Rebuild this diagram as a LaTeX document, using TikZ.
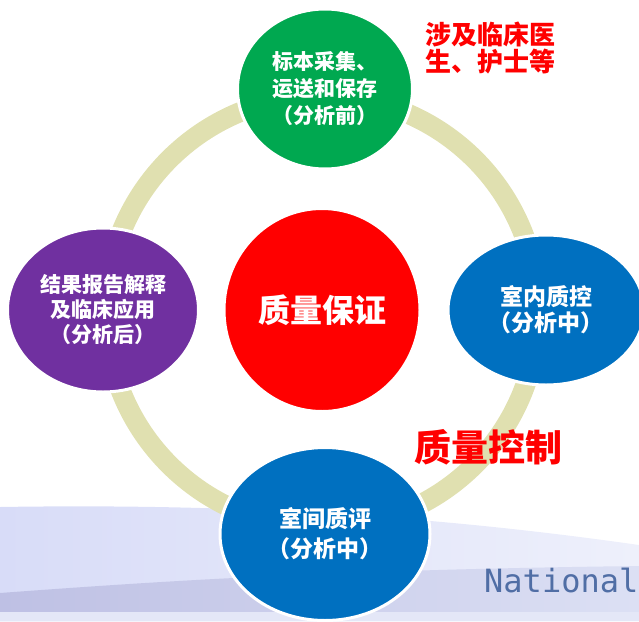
\documentclass[tikz,border=0pt]{standalone}
\usepackage{fontspec}
\usetikzlibrary{shapes.geometric}
\newfontfamily\cjk{Noto Sans CJK SC}
\newfontfamily\natfont{DejaVu Sans Mono}
\definecolor{ringc}{RGB}{224,224,176}
\definecolor{greenc}{RGB}{0,168,80}
\definecolor{purplec}{RGB}{112,48,160}
\definecolor{bluec}{RGB}{0,112,192}
\definecolor{redc}{RGB}{255,0,0}
\definecolor{lavA}{RGB}{216,220,248}
\definecolor{lavB}{RGB}{238,240,251}
\definecolor{lavC}{RGB}{190,192,228}
\definecolor{lavD}{RGB}{220,224,244}
\definecolor{lavE}{RGB}{228,231,247}
\definecolor{natc}{RGB}{80,110,165}
\tikzset{
  blob/.style={ellipse, draw=white, line width=3pt, inner sep=0pt, align=center,
    text=white, font=\cjk\bfseries\fontsize{21}{26}\selectfont},
  redlabel/.style={text=redc, align=left, inner sep=0pt}
}
\begin{document}
\begin{tikzpicture}[x=1pt,y=-1pt]
\useasboundingbox (0,0) rectangle (639,621);
\begin{scope}
\clip (0,0) rectangle (639,621);
% background swoosh
\shade[left color=lavA, right color=lavB] (0,507) .. controls (250,503) and (450,518) .. (639,545) -- (639,621) -- (0,621) -- cycle;
\shade[left color=lavC, right color=lavD] (0,593) .. controls (150,582) and (320,570) .. (639,566) -- (639,621) -- (0,621) -- cycle;
\fill[lavE] (0,612) rectangle (639,621);
\node[text=natc, font=\natfont\fontsize{32}{32}\selectfont, anchor=base west, inner sep=0pt] (nat) at (484,592) {National};
% ring
\draw[ringc, line width=20pt] (322,312) circle (216);
% nodes
\node[blob, fill=greenc, minimum width=175pt, minimum height=160pt, font=\cjk\bfseries\fontsize{21}{27}\selectfont] (pre) at (325,89)
  {标本采集、\\运送和保存\\（分析前）};
\node[blob, fill=purplec, minimum width=191pt, minimum height=164pt, font=\cjk\bfseries\fontsize{21}{25}\selectfont] (post) at (103,310)
  {结果报告解释\\及临床应用\\（分析后）};
\node[blob, fill=bluec, minimum width=196pt, minimum height=150pt, font=\cjk\bfseries\fontsize{23}{26}\selectfont] (iqc) at (546,310)
  {室内质控\\（分析中）};
\node[blob, fill=bluec, minimum width=210pt, minimum height=173pt, font=\cjk\bfseries\fontsize{23}{30}\selectfont] (eqa) at (325,534)
  {室间质评\\（分析中）};
\node[blob, fill=redc, minimum width=196pt, minimum height=203pt, font=\cjk\bfseries\fontsize{32}{32}\selectfont] (qa) at (322,310)
  {质量保证};
\end{scope}
\node[redlabel, font=\cjk\bfseries\fontsize{26}{27}\selectfont, anchor=west] (inv) at (425,48)
  {涉及临床医\\生、护士等};
\node[redlabel, font=\cjk\bfseries\fontsize{37}{37}\selectfont, anchor=west] (qc) at (414,447)
  {质量控制};
\end{tikzpicture}
\end{document}
